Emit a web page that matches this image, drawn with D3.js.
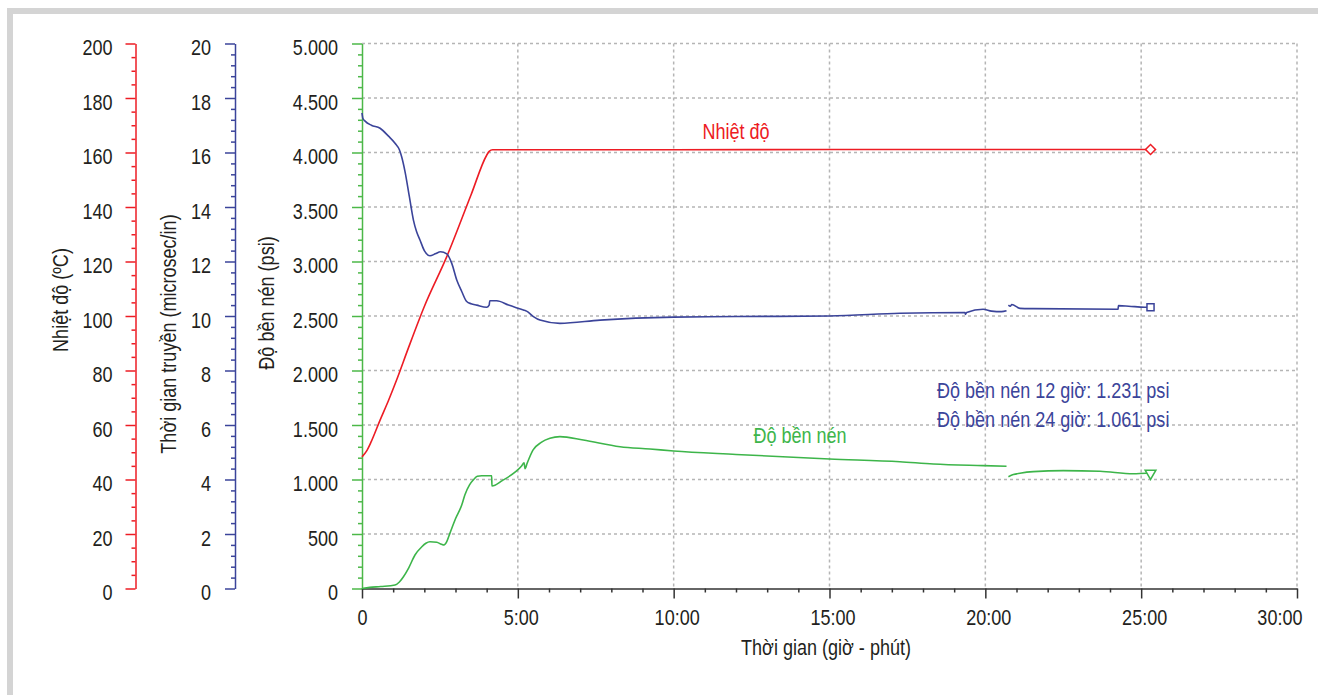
<!DOCTYPE html>
<html>
<head>
<meta charset="utf-8">
<script src="https://cdn.jsdelivr.net/npm/d3@7"></script>
<style>
    body { margin: 0; background: #fff; }
    svg { display: block; font-family: "Liberation Sans", Arial, sans-serif; }
    .grid line { stroke: #b5b5b5; stroke-width: 1.5; stroke-dasharray: 3,3; }
    .tick text { font-size: 22px; fill: #231f20; }
    .title { font-size: 22px; fill: #231f20; }
</style>
</head>
<body>
<div id="chart"></div>
<script>
// time in hours (null = gap in the record)
const tempData = [
    [0, 48.3], [0.15, 50.5], [0.3, 54], [0.58, 61.8], [0.85, 69], [1.11, 76.5], [1.49, 88.3],
    [2.0, 103.5], [2.72, 121.8], [3.5, 144.5], [4.0, 159], [4.08, 160.4], [4.19, 161],
    [10, 161], [15, 161.1], [20, 161.1], [25.3, 161.1]
];
const transitData = [
    [0, 17.45], [0.03, 17.25], [0.1, 17.15], [0.3, 17.0], [0.58, 16.89], [0.85, 16.6], [1.06, 16.34],
    [1.2, 16.1], [1.27, 15.85], [1.38, 15.3], [1.52, 14.38], [1.65, 13.52], [1.75, 13.1], [1.86, 12.79],
    [2.0, 12.4], [2.18, 12.21], [2.35, 12.28], [2.52, 12.36], [2.72, 12.28], [2.88, 11.93], [3.04, 11.32],
    [3.2, 10.9], [3.36, 10.53], [3.5, 10.45], [3.68, 10.4], [4.0, 10.32], [4.08, 10.4], [4.1, 10.56],
    [4.32, 10.56], [4.7, 10.4], [5.18, 10.22], [5.28, 10.18], [5.5, 9.98], [5.71, 9.85], [6.35, 9.73],
    [7.64, 9.85], [10, 9.96], [12, 9.98], [15, 10.0], [17.26, 10.1], [19.35, 10.13], [19.36, 10.06],
    [19.4, 10.13], [19.93, 10.25], [20.2, 10.18], [20.52, 10.16], [20.68, 10.19], [20.71, null],
    [20.74, 10.4], [20.8, 10.36], [20.85, 10.42], [21.11, 10.28], [21.53, 10.27], [24.26, 10.25],
    [24.27, 10.38], [24.6, 10.36], [25.12, 10.32], [25.3, 10.32]
];
const strengthData = [
    [0, 0], [0.25, 10], [0.6, 18], [1.06, 32], [1.2, 60], [1.33, 108], [1.5, 190], [1.7, 307],
    [1.92, 383], [2.05, 415], [2.18, 429], [2.4, 424], [2.55, 405], [2.63, 399], [2.72, 430],
    [2.82, 506], [3.0, 640], [3.2, 766], [3.3, 858], [3.45, 950], [3.59, 1002], [3.7, 1030],
    [3.84, 1035], [4.16, 1035], [4.17, 940], [4.5, 990], [4.93, 1072], [5.12, 1124], [5.2, 1154],
    [5.23, 1100], [5.3, 1150], [5.49, 1271], [5.75, 1340], [6.03, 1378], [6.35, 1393], [7.1, 1362],
    [8.28, 1301], [9.24, 1280], [10, 1261], [12, 1230], [15, 1188], [17.26, 1163], [18.33, 1142],
    [19.93, 1127], [20.68, 1121], [20.71, null], [20.74, 1026], [20.9, 1045], [21.11, 1057],
    [21.54, 1072], [22.5, 1081], [23.68, 1075], [24.75, 1053], [25.17, 1057], [25.3, 1057]
];

const timeTicks = [0, 5, 10, 15, 20, 25, 30];
const tempTicks = d3.range(0, 201, 20);
const transitTicks = d3.range(0, 21, 2);
const strengthTicks = d3.range(0, 5001, 500);

const notes = ['Độ bền nén 12 giờ: 1.231 psi', 'Độ bền nén 24 giờ: 1.061 psi'];

const RED = '#ed1c24', BLUE = '#3b449a', GREEN = '#3db54a';
const NARROW = 0.82; // no condensed font installed, squeeze Liberation Sans instead

const width = 1318, height = 695;
const svg = d3.select('#chart').append('svg')
    .attr('width', width)
    .attr('height', height);

// squeeze text horizontally around its own anchor point
function condense(sel) {
    sel.each(function () {
        const t = d3.select(this);
        const tx = +t.attr('x') || 0, ty = +t.attr('y') || 0;
        const prev = t.attr('transform') || '';
        t.attr('x', 0).attr('y', 0)
            .attr('transform', `${prev} translate(${tx},${ty}) scale(${NARROW},1)`);
    });
}

// frame
svg.append('rect').attr('x', 7).attr('y', 8).attr('width', width - 7).attr('height', 6).attr('fill', '#d4d4d4');
svg.append('rect').attr('x', 7).attr('y', 8).attr('width', 6).attr('height', height - 8).attr('fill', '#d4d4d4');

const x = d3.scaleLinear().domain([0, 30]).range([362, 1297]);
const yS = d3.scaleLinear().domain([0, 5000]).range([588.5, 43.5]);
const yT = d3.scaleLinear().domain([0, 200]).range([588.5, 43.5]);
const yM = d3.scaleLinear().domain([0, 20]).range([588.5, 43.5]);

const dotFmt = d3.formatLocale({ decimal: ',', thousands: '.', grouping: [3], currency: ['', ''] }).format(',');

// grid
const grid = svg.append('g').attr('class', 'grid');
grid.selectAll('line.v').data(timeTicks.slice(1)).join('line')
    .attr('x1', d => x(d)).attr('x2', d => x(d))
    .attr('y1', yS(5000)).attr('y2', yS(0));
grid.selectAll('line.h').data(strengthTicks.slice(1)).join('line')
    .attr('x1', x(0)).attr('x2', x(30))
    .attr('y1', d => yS(d)).attr('y2', d => yS(d));

function styleAxis(g, color) {
    g.select('.domain').attr('stroke', color).attr('stroke-width', 1.5);
    g.selectAll('.tick line').attr('stroke', color).attr('stroke-width', 1.5);
}

function yAxis(scale, xPos, major, minorStep, color, pad, fmt) {
    const [lo, hi] = scale.domain();
    const minor = d3.range(lo, hi + 1e-9, minorStep).filter(v => !major.some(m => Math.abs(m - v) < 1e-9));
    const gMinor = svg.append('g').attr('transform', `translate(${xPos},0)`)
        .call(d3.axisLeft(scale).tickValues(minor).tickSize(4).tickSizeOuter(0).tickFormat(''));
    gMinor.select('.domain').remove();
    gMinor.selectAll('.tick line').attr('stroke', color).attr('stroke-width', 1.5);
    const g = svg.append('g').attr('transform', `translate(${xPos},0)`)
        .call(d3.axisLeft(scale).tickValues(major).tickSize(10).tickSizeOuter(0).tickPadding(pad).tickFormat(fmt));
    styleAxis(g, color);
    g.selectAll('.tick text').attr('dy', '0.5em').call(condense);
}

yAxis(yT, 135.5, tempTicks, 5, RED, 13, d => d);
yAxis(yM, 235, transitTicks, 0.4, BLUE, 14, d => d);
yAxis(yS, 362, strengthTicks, 100, '#4cb848', 14, d => dotFmt(d));

// x axis
const gxMinor = svg.append('g').attr('transform', `translate(0,${yS(0)})`)
    .call(d3.axisBottom(x).tickValues(d3.range(1, 30).filter(v => v % 5)).tickSize(4).tickFormat(''));
gxMinor.select('.domain').remove();
gxMinor.selectAll('.tick line').attr('stroke', '#333').attr('stroke-width', 1.5);
const gx = svg.append('g').attr('transform', `translate(0,${yS(0)})`)
    .call(d3.axisBottom(x).tickValues(timeTicks).tickSize(10).tickSizeOuter(0).tickPadding(11)
        .tickFormat(d => d === 0 ? '0' : d + ':00'));
styleAxis(gx, '#333');
gx.selectAll('.tick text').filter(d => d === 30).attr('text-anchor', 'end').attr('x', 5);
gx.selectAll('.tick text').filter(d => d > 0 && d < 30).attr('x', 3);
gx.selectAll('.tick text').call(condense);

// axis titles
svg.append('text').attr('class', 'title').attr('x', 826).attr('y', 655)
    .attr('text-anchor', 'middle').text('Thời gian (giờ - phút)').call(condense);
svg.append('text').attr('class', 'title').attr('transform', 'translate(68,300) rotate(-90)')
    .attr('text-anchor', 'middle').text('Nhiệt độ (ºC)').call(condense);
svg.append('text').attr('class', 'title').attr('transform', 'translate(176,334) rotate(-90)')
    .attr('text-anchor', 'middle').text('Thời gian truyền (microsec/in)').call(condense);
svg.append('text').attr('class', 'title').attr('transform', 'translate(274,303) rotate(-90)')
    .attr('text-anchor', 'middle').text('Độ bền nén (psi)').call(condense);

// series
function drawSeries(data, scale, color, symbol, rotate) {
    const line = d3.line().defined(d => d[1] != null).curve(d3.curveMonotoneX)
        .x(d => x(d[0])).y(d => scale(d[1]));
    svg.append('path').datum(data)
        .attr('fill', 'none').attr('stroke', color).attr('stroke-width', 1.6)
        .attr('stroke-linejoin', 'round').attr('d', line);
    const last = data[data.length - 1];
    svg.append('path')
        .attr('d', d3.symbol().type(symbol).size(50)())
        .attr('transform', `translate(${x(last[0])},${scale(last[1])}) rotate(${rotate})`)
        .attr('fill', '#fff').attr('stroke', color).attr('stroke-width', 1.5);
}

drawSeries(tempData, yT, RED, d3.symbolSquare, 45);
drawSeries(transitData, yM, BLUE, d3.symbolSquare, 0);
drawSeries(strengthData, yS, GREEN, d3.symbolTriangle, 180);

// labels
svg.append('text').attr('x', 736).attr('y', 139).attr('text-anchor', 'middle')
    .attr('font-size', 22).attr('fill', RED).text('Nhiệt độ').call(condense);
svg.append('text').attr('x', 800).attr('y', 443).attr('text-anchor', 'middle')
    .attr('font-size', 22).attr('fill', GREEN).text('Độ bền nén').call(condense);
svg.selectAll('text.note').data(notes).join('text')
    .attr('class', 'note')
    .attr('x', 937).attr('y', (d, i) => 398 + i * 28.5)
    .attr('font-size', 22).attr('fill', BLUE).text(d => d).call(condense);
</script>
</body>
</html>
